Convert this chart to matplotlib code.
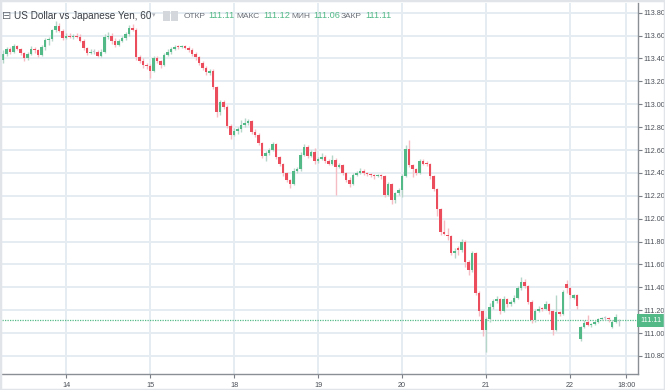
import matplotlib
matplotlib.use('Agg')

import numpy as np
import matplotlib.pyplot as plt
import matplotlib.transforms as mtransforms
from matplotlib.patches import Rectangle

# USD/JPY hourly candles
opens = [113.39, 113.44, 113.48, 113.46, 113.51, 113.48, 113.45, 113.40, 113.44, 113.48,
         113.47, 113.43, 113.50, 113.56, 113.57, 113.65, 113.68, 113.64, 113.58, 113.60,
         113.59, 113.60, 113.59, 113.55, 113.49, 113.45, 113.46, 113.46, 113.42, 113.46,
         113.59, 113.60, 113.55, 113.52, 113.55, 113.58, 113.61, 113.67, 113.65, 113.41,
         113.38, 113.34, 113.33, 113.29, 113.40, 113.38, 113.34, 113.43, 113.46, 113.48,
         113.51, 113.50, 113.51, 113.49, 113.47, 113.44, 113.41, 113.36, 113.32, 113.27,
         113.29, 113.15, 112.93, 113.02, 112.98, 112.81, 112.73, 112.77, 112.78, 112.82,
         112.84, 112.85, 112.76, 112.73, 112.66, 112.55, 112.57, 112.60, 112.65, 112.54,
         112.48, 112.40, 112.34, 112.30, 112.42, 112.43, 112.56, 112.63, 112.55, 112.58,
         112.50, 112.52, 112.54, 112.50, 112.48, 112.51, 112.45, 112.47, 112.40, 112.34,
         112.30, 112.38, 112.40, 112.42, 112.40, 112.39, 112.38, 112.37, 112.38, 112.37,
         112.21, 112.30, 112.16, 112.22, 112.25, 112.37, 112.61, 112.47, 112.43, 112.40,
         112.50, 112.49, 112.48, 112.37, 112.26, 112.08, 111.88, 111.86, 111.85, 111.70,
         111.74, 111.73, 111.80, 111.62, 111.55, 111.70, 111.35, 111.19, 111.03, 111.12,
         111.23, 111.28, 111.30, 111.19, 111.30, 111.25, 111.27, 111.31, 111.39, 111.45,
         111.41, 111.27, 111.11, 111.19, 111.22, 111.21, 111.25, 111.19, 111.03, 111.18,
         111.17, 111.43, 111.39, 111.31, 111.33, 110.95, 111.05, 111.10, 111.07, 111.08,
         111.10, 111.12, 111.13, 111.13, 111.05, 111.10, 111.11]
highs = [113.47, 113.50, 113.50, 113.53, 113.52, 113.49, 113.46, 113.46, 113.51, 113.50,
         113.48, 113.52, 113.58, 113.59, 113.66, 113.73, 113.71, 113.66, 113.62, 113.62,
         113.61, 113.62, 113.61, 113.57, 113.50, 113.48, 113.48, 113.47, 113.48, 113.61,
         113.63, 113.62, 113.58, 113.57, 113.60, 113.63, 113.69, 113.70, 113.67, 113.43,
         113.40, 113.36, 113.35, 113.42, 113.42, 113.39, 113.45, 113.48, 113.50, 113.52,
         113.52, 113.52, 113.52, 113.51, 113.49, 113.46, 113.42, 113.38, 113.33, 113.31,
         113.31, 113.16, 113.04, 113.04, 112.99, 112.83, 112.79, 112.80, 112.86, 112.88,
         112.87, 112.86, 112.78, 112.75, 112.67, 112.59, 112.62, 112.67, 112.66, 112.55,
         112.49, 112.41, 112.35, 112.44, 112.45, 112.58, 112.65, 112.64, 112.60, 112.62,
         112.54, 112.57, 112.56, 112.52, 112.56, 112.53, 112.49, 112.48, 112.41, 112.36,
         112.40, 112.42, 112.44, 112.43, 112.41, 112.40, 112.39, 112.39, 112.39, 112.38,
         112.32, 112.31, 112.23, 112.27, 112.39, 112.64, 112.69, 112.48, 112.44, 112.52,
         112.52, 112.50, 112.49, 112.38, 112.27, 112.09, 111.99, 111.92, 111.86, 111.74,
         111.76, 111.82, 111.81, 111.64, 111.72, 111.71, 111.37, 111.20, 111.14, 111.26,
         111.30, 111.32, 111.31, 111.32, 111.31, 111.29, 111.33, 111.41, 111.49, 111.47,
         111.42, 111.29, 111.21, 111.24, 111.23, 111.28, 111.26, 111.20, 111.33, 111.19,
         111.38, 111.46, 111.40, 111.34, 111.34, 111.06, 111.11, 111.16, 111.09, 111.11,
         111.13, 111.14, 111.15, 111.14, 111.11, 111.17, 111.12]
lows = [113.36, 113.42, 113.44, 113.45, 113.47, 113.43, 113.38, 113.39, 113.43, 113.45,
        113.41, 113.42, 113.47, 113.52, 113.55, 113.63, 113.63, 113.56, 113.57, 113.58,
        113.57, 113.58, 113.54, 113.47, 113.43, 113.44, 113.44, 113.41, 113.41, 113.45,
        113.57, 113.53, 113.50, 113.51, 113.54, 113.56, 113.60, 113.64, 113.39, 113.36,
        113.32, 113.31, 113.23, 113.28, 113.36, 113.32, 113.33, 113.42, 113.44, 113.47,
        113.48, 113.49, 113.48, 113.46, 113.42, 113.39, 113.34, 113.30, 113.26, 113.26,
        113.13, 112.89, 112.91, 112.96, 112.79, 112.70, 112.72, 112.74, 112.76, 112.80,
        112.82, 112.74, 112.71, 112.64, 112.53, 112.50, 112.56, 112.59, 112.52, 112.46,
        112.37, 112.32, 112.27, 112.29, 112.40, 112.42, 112.55, 112.53, 112.54, 112.48,
        112.49, 112.51, 112.49, 112.47, 112.47, 112.21, 112.44, 112.38, 112.32, 112.28,
        112.29, 112.37, 112.39, 112.38, 112.37, 112.36, 112.35, 112.36, 112.35, 112.19,
        112.20, 112.13, 112.14, 112.21, 112.19, 112.36, 112.45, 112.36, 112.38, 112.39,
        112.47, 112.46, 112.35, 112.24, 112.02, 111.86, 111.86, 111.81, 111.68, 111.66,
        111.68, 111.71, 111.58, 111.51, 111.53, 111.33, 111.15, 110.97, 110.83, 111.10,
        111.21, 111.26, 111.17, 111.18, 111.23, 111.24, 111.26, 111.30, 111.38, 111.39,
        111.25, 111.09, 111.10, 111.18, 111.19, 111.20, 111.17, 110.98, 111.02, 111.15,
        111.16, 111.35, 111.31, 111.30, 111.21, 110.93, 111.04, 111.06, 111.05, 111.07,
        111.09, 111.11, 111.11, 111.10, 111.04, 111.09, 111.06]
closes = [113.44, 113.48, 113.46, 113.51, 113.48, 113.45, 113.40, 113.44, 113.48, 113.47,
          113.43, 113.50, 113.56, 113.57, 113.65, 113.68, 113.64, 113.58, 113.60, 113.59,
          113.60, 113.59, 113.55, 113.49, 113.45, 113.46, 113.46, 113.42, 113.46, 113.59,
          113.60, 113.55, 113.52, 113.55, 113.58, 113.61, 113.67, 113.65, 113.41, 113.38,
          113.34, 113.33, 113.29, 113.40, 113.38, 113.34, 113.43, 113.46, 113.48, 113.50,
          113.50, 113.51, 113.49, 113.47, 113.44, 113.41, 113.36, 113.32, 113.28, 113.29,
          113.15, 112.93, 113.02, 112.98, 112.81, 112.73, 112.77, 112.78, 112.82, 112.84,
          112.85, 112.76, 112.73, 112.66, 112.55, 112.57, 112.60, 112.65, 112.54, 112.48,
          112.40, 112.34, 112.30, 112.42, 112.43, 112.56, 112.63, 112.55, 112.58, 112.50,
          112.52, 112.54, 112.50, 112.48, 112.51, 112.45, 112.47, 112.40, 112.34, 112.30,
          112.38, 112.40, 112.42, 112.40, 112.39, 112.38, 112.37, 112.38, 112.37, 112.21,
          112.30, 112.16, 112.22, 112.25, 112.37, 112.61, 112.47, 112.43, 112.40, 112.50,
          112.48, 112.48, 112.37, 112.26, 112.08, 111.88, 111.87, 111.85, 111.70, 111.72,
          111.73, 111.80, 111.62, 111.55, 111.70, 111.35, 111.19, 111.03, 111.12, 111.23,
          111.28, 111.30, 111.19, 111.30, 111.25, 111.27, 111.31, 111.39, 111.45, 111.41,
          111.27, 111.11, 111.19, 111.21, 111.21, 111.25, 111.19, 111.03, 111.18, 111.17,
          111.36, 111.39, 111.33, 111.33, 111.24, 111.05, 111.09, 111.07, 111.08, 111.10,
          111.12, 111.13, 111.13, 111.12, 111.10, 111.14, 111.11]

day_ticks = [18, 42, 66, 90, 114, 138, 162, 178]
day_labels = ['14', '15', '18', '19', '20', '21', '22', '18:00']
price_ticks = [110.8, 111.0, 111.2, 111.4, 111.6, 111.8, 112.0, 112.2, 112.4,
               112.6, 112.8, 113.0, 113.2, 113.4, 113.6, 113.8]
last_price = 111.11

UP = '#53b987'
DOWN = '#eb4d5c'
UP_WICK = '#b5d6c8'
DOWN_WICK = '#f6bcc3'
FLAT = '#c5c9d0'
GRID = '#e6edf2'
TEXT = '#4a4f57'
FONT = ['Liberation Sans', 'DejaVu Sans']

plt.rcParams['font.family'] = FONT

o = np.array(opens)
h = np.array(highs)
l = np.array(lows)
c = np.array(closes)
x = np.arange(len(c))

body_col = np.where(c > o, UP, np.where(c < o, DOWN, FLAT))
wick_col = np.where(c > o, UP_WICK, np.where(c < o, DOWN_WICK, FLAT))

fig = plt.figure(figsize=(6.65, 3.90), dpi=100)
ax = fig.add_axes([2 / 665, 16 / 390, 636 / 665, 371 / 390])

ax.vlines(x, l, h, colors=wick_col, linewidth=1.0, zorder=2)
body_h = np.maximum(np.abs(c - o), 0.008)
ax.bar(x, body_h, bottom=np.minimum(o, c), width=0.72, color=body_col,
       linewidth=0, zorder=3)

ax.set_xlim(-0.3, 181.4)
ax.set_ylim(110.642, 113.885)

ax.set_xticks(day_ticks)
ax.set_xticklabels(day_labels)
ax.set_yticks(price_ticks)
ax.set_yticklabels(['%.2f' % p for p in price_ticks])
ax.yaxis.tick_right()
ax.tick_params(axis='both', labelsize=5.2, labelcolor=TEXT, color='#7a7f87',
               length=3, width=0.8)
ax.tick_params(axis='y', pad=1.2)
ax.tick_params(axis='x', pad=2.5)
ax.grid(True, color=GRID, linewidth=1.4, zorder=0)
ax.set_axisbelow(True)

for side in ['left', 'top']:
    ax.spines[side].set_visible(False)
for side in ['right', 'bottom']:
    ax.spines[side].set_color('#8a8e95')
    ax.spines[side].set_linewidth(1.0)

# current price line and its label
ax.axhline(last_price, color=UP, linewidth=0.9, linestyle=(0, (1, 1)), zorder=1)
trans = mtransforms.blended_transform_factory(ax.transAxes, ax.transData)
ax.text(1.003, last_price, '%.2f' % last_price, transform=trans, ha='left',
        va='center', fontsize=5.2, color='white', zorder=5, clip_on=False,
        bbox=dict(boxstyle='square,pad=0.4', fc=UP, ec='none'))

# header line
y_hdr = 1 - 16 / 390
fig.text(2 / 665, y_hdr, '\u229f', fontsize=8, color='#6a6f77', va='center')
fig.text(14 / 665, y_hdr, 'US Dollar vs Japanese Yen, 60', fontsize=7.2,
         color='#3a3e45', va='center')
fig.text(152 / 665, y_hdr, '\u25be', fontsize=5, color='#b0b4ba', va='center')
for px in [163, 171]:
    fig.patches.append(Rectangle((px / 665, y_hdr - 5 / 390), 7 / 665, 10 / 390,
                                 transform=fig.transFigure, fc='#d4d7dc', ec='none'))
pairs = [(184, 'ОТКР', 208, '111.11'), (236, 'МАКС', 263, '111.12'),
         (291, 'МИН', 313, '111.06'), (341, 'ЗАКР', 365, '111.11')]
for lx, lab, vx, val in pairs:
    fig.text(lx / 665, y_hdr, lab, fontsize=6.0, color='#6a6f77', va='center')
    fig.text(vx / 665, y_hdr, val, fontsize=6.6, color=UP, va='center')

# light outer frame
fig.patches.append(Rectangle((0, 0), 1, 1, transform=fig.transFigure, fill=False,
                             ec='#e1e4e9', lw=2.5))

plt.savefig('out.png', dpi=100)
